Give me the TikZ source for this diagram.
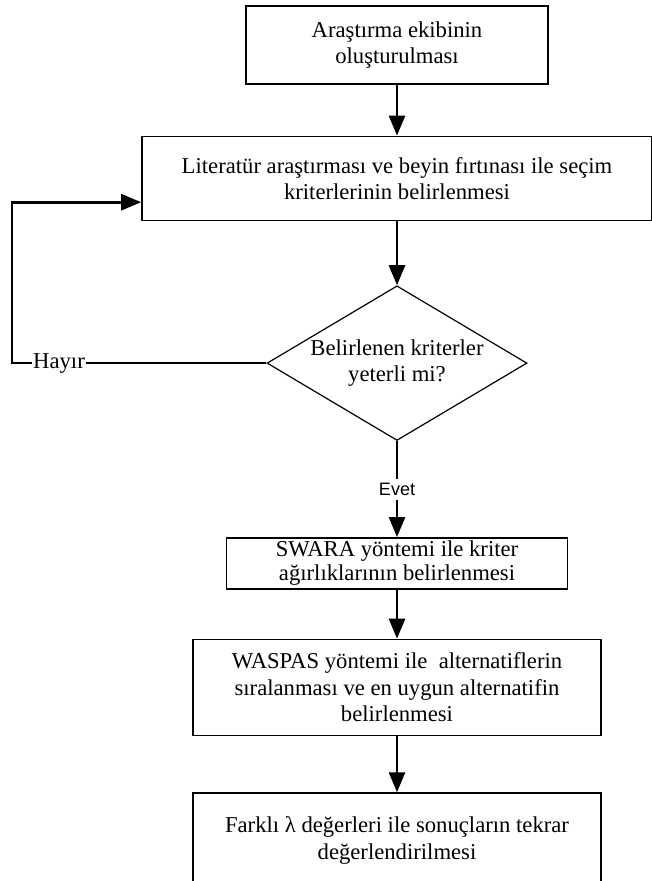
\documentclass[tikz,border=0pt]{standalone}
\usepackage{fontspec}
\setmainfont{Liberation Serif}
\setsansfont{Liberation Sans}
\usetikzlibrary{arrows.meta,positioning,shapes.geometric,calc}

\begin{document}
\begin{tikzpicture}[
    box/.style={draw=black, line width=1.2pt, rectangle, align=center, inner sep=1pt, font=\fontsize{17}{19.8}\selectfont},
    decision/.style={draw=black, line width=0.9pt, diamond, aspect=1.68, inner sep=0pt, minimum width=195pt, minimum height=116pt, align=center, font=\fontsize{17}{19.8}\selectfont},
    arrow/.style={-{Triangle[length=15pt, width=12pt]}, line width=2pt},
    line/.style={line width=2pt},
    yes/.style={font=\sffamily\fontsize{13.5}{15}\selectfont, inner sep=3pt},
    no/.style={font=\fontsize{17}{19.8}\selectfont, inner sep=1pt}
  ]
    \useasboundingbox (0,0) rectangle (488.25pt,-660.75pt);

    \node[box, anchor=north, minimum width=226.5pt, minimum height=58.5pt] (ekip) at (297.75pt,-3.75pt) {Araştırma ekibinin\\oluşturulması};
    \node[box, below=38.25pt of ekip, minimum width=382.5pt, minimum height=63pt] (lit) {Literatür araştırması ve beyin fırtınası ile seçim\\kriterlerinin belirlenmesi};
    \node[decision, below=48pt of lit] (dec) {Belirlenen kriterler\\yeterli mi?};
    \node[box, below=72pt of dec, minimum width=255.75pt, minimum height=38.25pt, inner ysep=0pt, font=\fontsize{17}{18.3}\selectfont] (swara) {SWARA yöntemi ile kriter\\ağırlıklarının belirlenmesi};
    \node[box, below=36.75pt of swara, minimum width=306pt, minimum height=72pt] (waspas) {WASPAS yöntemi ile~ alternatiflerin\\sıralanması ve en uygun alternatifin\\belirlenmesi};
    \node[box, below=42pt of waspas, minimum width=306pt, minimum height=71pt] (lambda) {Farklı λ değerleri ile sonuçların tekrar\\değerlendirilmesi};

    \draw[arrow] (ekip) -- (lit);
    \draw[arrow] (lit) -- (dec);

    % evet
    \node[yes] (evet) at ($(dec.south)!0.5!(swara.north)$) {Evet};
    \draw[line] (dec.south) -- (evet.north);
    \draw[arrow] (evet.south) -- (swara.north);

    % hayir: geri donus
    \node[no] (hayir) at (44.25pt,0 |- dec.west) {Hayır};
    \coordinate (donus) at (9pt,0 |- dec.west);
    \coordinate (giris) at ([yshift=14.25pt]lit.south west);
    \draw[line] (dec.west) -- (hayir.east);
    \draw[arrow] (hayir.west) -- (donus) |- (giris);

    \draw[arrow] (swara) -- (waspas);
    \draw[arrow] (waspas) -- (lambda);
  \end{tikzpicture}
\end{document}
